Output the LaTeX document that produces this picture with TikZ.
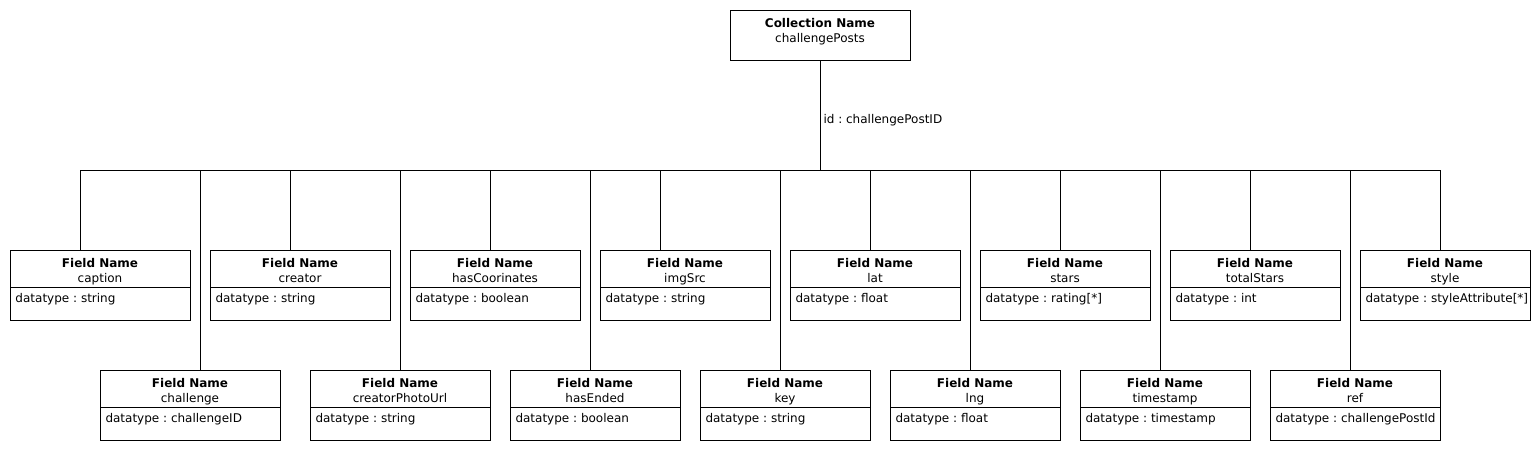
\documentclass[tikz,border=0pt]{standalone}
\usepackage{fontspec}
\setmainfont{DejaVu Sans}
\frenchspacing
\newcommand\fieldnode[7]{% name, x, y, width, field, type, connector offset
  \node[box, minimum width=#4pt, minimum height=70pt] (#1) at (#2,#3) {};
  \draw ([yshift=-37.5pt]#1.north west) -- ([yshift=-37.5pt]#1.north east);
  \node[txt, font=\fontsize{12pt}{14pt}\selectfont\bfseries] at ([yshift=-17pt]#1.north) {Field Name};
  \node[txt] at ([yshift=-32pt]#1.north) {#5};
  \node[txt, anchor=base west] at ([xshift=5pt,yshift=-52pt]#1.north west) {datatype : #6};
  \coordinate (#1-c) at ([xshift=#7pt]#1.north west);
}
\begin{document}
\begin{tikzpicture}[x=1pt,y=-1pt,line width=1pt,
  box/.style={draw, anchor=north west, inner sep=0pt, outer sep=0pt},
  txt/.style={inner sep=0pt, anchor=base, font=\fontsize{12pt}{14pt}\selectfont}]
\useasboundingbox (0,0) rectangle (1540,450);
\frenchspacing
% collection
\node[box, minimum width=180pt, minimum height=50pt] (coll) at (730,10) {};
\node[txt, font=\fontsize{12pt}{14pt}\selectfont\bfseries] at ([yshift=-17pt]coll.north) {Collection Name};
\node[txt] at ([yshift=-32pt]coll.north) {challengePosts};
\coordinate (hub) at (820,170);
% top row
\fieldnode{caption}{10}{250}{180}{caption}{string}{70}
\fieldnode{creator}{210}{250}{180}{creator}{string}{80}
\fieldnode{hascoor}{410}{250}{170}{hasCoorinates}{boolean}{80}
\fieldnode{imgsrc}{600}{250}{170}{imgSrc}{string}{60}
\fieldnode{lat}{790}{250}{170}{lat}{float}{80}
\fieldnode{stars}{980}{250}{170}{stars}{rating[*]}{80}
\fieldnode{totalstars}{1170}{250}{170}{totalStars}{int}{80}
\fieldnode{style}{1360}{250}{170}{style}{styleAttribute[*]}{80}
% bottom row
\fieldnode{challenge}{100}{370}{180}{challenge}{challengeID}{100}
\fieldnode{photourl}{310}{370}{180}{creatorPhotoUrl}{string}{90}
\fieldnode{hasended}{510}{370}{170}{hasEnded}{boolean}{80}
\fieldnode{key}{700}{370}{170}{key}{string}{80}
\fieldnode{lng}{890}{370}{170}{lng}{float}{80}
\fieldnode{timestamp}{1080}{370}{170}{timestamp}{timestamp}{80}
\fieldnode{ref}{1270}{370}{170}{ref}{challengePostId}{80}
% connectors
\draw (coll.south) -- (hub);
\node[txt, anchor=base west] (idlbl) at (823,123) {id : challengePostID};
\draw (caption-c |- hub) -- (style-c |- hub);
\foreach \n in {caption,creator,hascoor,imgsrc,lat,stars,totalstars,style,challenge,photourl,hasended,key,lng,timestamp,ref}
  \draw (\n-c) -- (\n-c |- hub);
\end{tikzpicture}
\end{document}
